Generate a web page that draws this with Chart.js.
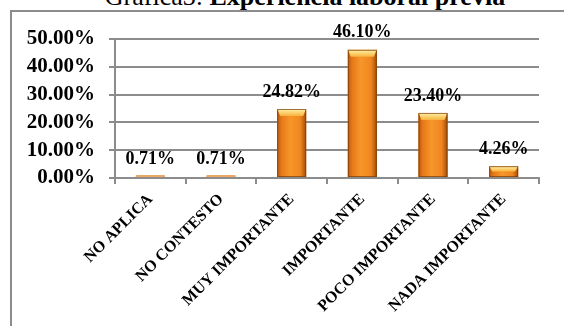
<!DOCTYPE html>
<html>
<head>
<meta charset="utf-8">
<script src="https://cdn.jsdelivr.net/npm/chart.js@4/dist/chart.umd.min.js"></script>
<style>
  html, body { margin: 0; padding: 0; background: #fff; overflow: hidden; }
  #wrap { position: relative; width: 564px; height: 326px; overflow: hidden; }
  #title {
    position: absolute; left: 23px; top: -16px; width: 564px; text-align: center;
    font-family: "Liberation Serif", "Times New Roman", serif; font-size: 26px; line-height: 26px;
    color: #000; white-space: nowrap;
  }
  #frame {
    position: absolute; left: 10px; top: 10px; right: -4px; bottom: -4px;
    border-left: 2px solid #8c8c8c; border-top: 2px solid #8c8c8c;
  }
  #chart { position: absolute; left: 0; top: 0; }
</style>
</head>
<body>
<div id="wrap">
  <div id="title">Gráfica3: <b>Experiencia laboral previa</b></div>
  <div id="frame"></div>
  <canvas id="chart" width="564" height="326"></canvas>
</div>
<script>
const categories = ["NO APLICA", "NO CONTESTO", "MUY IMPORTANTE", "IMPORTANTE", "POCO IMPORTANTE", "NADA IMPORTANTE"];
const percentages = [0.71, 0.71, 24.82, 46.10, 23.40, 4.26];
const yTicks = [0, 10, 20, 30, 40, 50];

const serif = "'Liberation Serif', 'Times New Roman', serif";

// paints the glossy orange look over each bar
const barShine = {
  id: "barShine",
  afterDatasetsDraw(chart) {
    const ctx = chart.ctx;
    chart.getDatasetMeta(0).data.forEach((bar) => {
      const left = bar.x - bar.width / 2;
      const right = bar.x + bar.width / 2;
      const top = bar.y;
      const bottom = bar.base;
      const h = bottom - top;
      ctx.save();
      if (h < 4) {
        ctx.fillStyle = "#e9a865";
        ctx.fillRect(left, top - 1, bar.width, Math.max(h, 2));
        ctx.restore();
        return;
      }
      const g = ctx.createLinearGradient(left, 0, right, 0);
      g.addColorStop(0, "#b85a0e");
      g.addColorStop(0.15, "#e7791a");
      g.addColorStop(0.45, "#f7962a");
      g.addColorStop(0.8, "#ef861f");
      g.addColorStop(1, "#a24c08");
      ctx.fillStyle = g;
      ctx.fillRect(left, top, bar.width, h);
      // top bevel
      const bev = Math.min(7, h / 2);
      const gt = ctx.createLinearGradient(0, top, 0, top + bev);
      gt.addColorStop(0, "#fff2a8");
      gt.addColorStop(1, "#f9b23c");
      ctx.fillStyle = gt;
      ctx.beginPath();
      ctx.moveTo(left, top);
      ctx.lineTo(right, top);
      ctx.lineTo(right - 3, top + bev);
      ctx.lineTo(left + 3, top + bev);
      ctx.closePath();
      ctx.fill();
      ctx.strokeStyle = "rgba(120,60,10,0.7)";
      ctx.lineWidth = 1;
      ctx.strokeRect(left + 0.5, top + 0.5, bar.width - 1, h - 1);
      ctx.restore();
    });
  }
};

// value labels above bars
const valueLabels = {
  id: "valueLabels",
  afterDraw(chart) {
    const ctx = chart.ctx;
    ctx.save();
    ctx.font = "bold 18px " + serif;
    ctx.fillStyle = "#000";
    ctx.textAlign = "center";
    ctx.textBaseline = "bottom";
    chart.getDatasetMeta(0).data.forEach((bar, i) => {
      ctx.fillText(percentages[i].toFixed(2) + "%", bar.x, bar.y - 8);
    });
    ctx.restore();
  }
};

new Chart(document.getElementById("chart"), {
  type: "bar",
  data: {
    labels: categories,
    datasets: [{
      data: percentages,
      backgroundColor: "#f08a1e",
      barPercentage: 0.41,
      categoryPercentage: 1
    }]
  },
  options: {
    responsive: false,
    animation: false,
    layout: { padding: { top: 39, right: 25, left: 0, bottom: 0 } },
    plugins: { legend: { display: false }, tooltip: { enabled: false } },
    scales: {
      x: {
        grid: { display: true, drawOnChartArea: false, offset: true, color: "#8c8c8c", lineWidth: 2, tickLength: 6 },
        border: { color: "#8c8c8c", width: 2 },
        ticks: {
          color: "#000",
          font: { family: serif, size: 16, weight: "bold" },
          maxRotation: 45, minRotation: 45, padding: 6, autoSkip: false
        },
        afterFit(scale) { scale.height = 148; }
      },
      y: {
        min: 0, max: 50,
        afterBuildTicks(scale) { scale.ticks = yTicks.map((v) => ({ value: v })); },
        grid: { color: "#8c8c8c", lineWidth: 2, tickLength: 6 },
        border: { color: "#8c8c8c", width: 2 },
        ticks: {
          color: "#000",
          padding: 14,
          autoSkip: false,
          font: { family: serif, size: 21, weight: "bold" },
          callback: (v) => v.toFixed(2) + "%"
        },
        afterFit(scale) { scale.width = 115; }
      }
    }
  },
  plugins: [barShine, valueLabels]
});
</script>
</body>
</html>
